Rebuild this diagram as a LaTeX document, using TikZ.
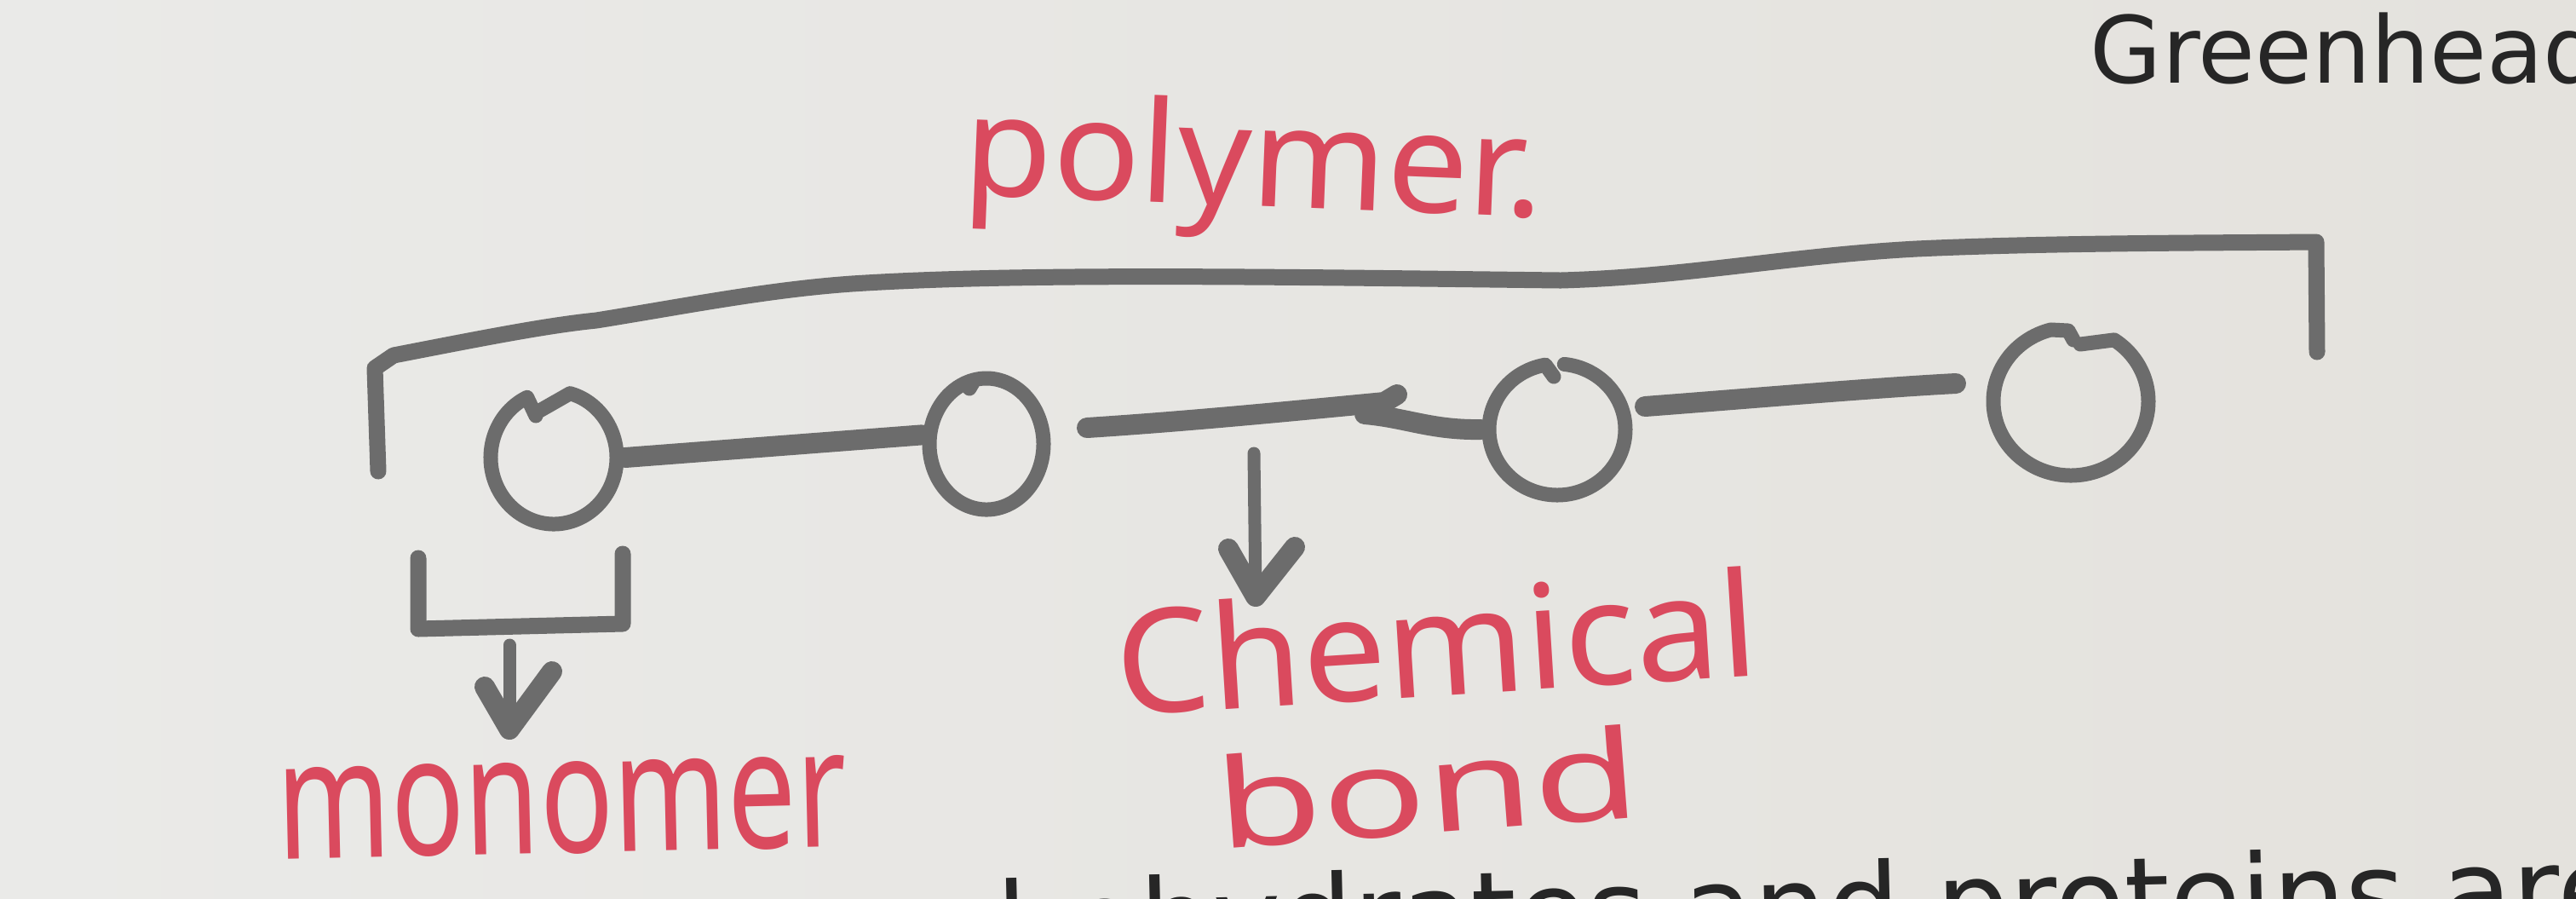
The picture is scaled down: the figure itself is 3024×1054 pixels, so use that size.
\documentclass[tikz,border=0pt]{standalone}
\usepackage{fontspec}
\newfontfamily\printfont{DejaVu Sans}
\newfontfamily\handfont{Noto Sans}
\usetikzlibrary{shapes.geometric}
\definecolor{paperL}{RGB}{234,234,232}
\definecolor{paperR}{RGB}{228,226,221}
\definecolor{pencol}{RGB}{108,108,108}
\definecolor{redcol}{RGB}{218,74,94}
\definecolor{inkcol}{RGB}{38,38,38}
\newdimen\pxu \pxu=0.25pt
\tikzset{
  pen/.style={draw=pencol, line width=17\pxu, line cap=round, line join=round},
  bondline/.style={pen, line width=24\pxu},
  headline/.style={pen, line width=24\pxu},
  mono/.style={ellipse, draw=none, inner sep=0pt},
  hand/.style={text=redcol, inner sep=0pt, anchor=base west},
  print/.style={text=inkcol, inner sep=0pt, anchor=base west},
}
\begin{document}
\begin{tikzpicture}[x=0.25pt, y=-0.25pt]
\useasboundingbox (0,0) rectangle (3024,1054);
\clip (0,0) rectangle (3024,1054);
\fill[left color=paperL, right color=paperR] (0,0) rectangle (3024,1054);

% printed text
\node[print, font=\printfont\fontsize{27.2pt}{30pt}\selectfont] (gh) at (2453,97) {Greenhead};
\node[print, rotate=1.3, font=\printfont\fontsize{33.75pt}{38pt}\selectfont] (body) at (958,1138) {carbohydrates and proteins are};

% polymer bracket
\draw[pen, line width=19\pxu] (444,553) -- (440,432) -- (462,417)
  .. controls (560,398) and (640,382) .. (700,376)
  .. controls (800,360) and (900,340) .. (1000,333)
  .. controls (1200,320) and (1500,325) .. (1832,329)
  .. controls (1980,325) and (2100,300) .. (2250,292)
  .. controls (2400,285) and (2600,285) .. (2719,284) -- (2720,413);

% monomer anchors
\node[mono, minimum width=166\pxu, minimum height=172\pxu] (m1) at (650,537) {};
\node[mono, minimum width=151\pxu, minimum height=172\pxu] (m2) at (1158,521) {};
\node[mono, minimum width=178\pxu, minimum height=172\pxu] (m3) at (1828,504) {};
\node[mono, minimum width=200\pxu, minimum height=192\pxu] (m4) at (2431,471) {};

% hand drawn monomers
\draw[pen] (630,484) -- ([shift={(285:74 and 78)}]m1.center)
  arc[start angle=285, end angle=605, x radius=74, y radius=78] -- (629,488);
\draw[pen] ([shift={(250:67 and 77)}]m2.center)
  arc[start angle=250, end angle=618, x radius=67, y radius=77] -- (1138,456);
\draw[pen] ([shift={(276:80 and 77)}]m3.center)
  arc[start angle=276, end angle=620, x radius=80, y radius=77] -- (1824,442);
\draw[pen] (2442,404) -- ([shift={(304:91 and 87)}]m4.center)
  arc[start angle=304, end angle=615, x radius=91, y radius=87] -- (2428,388) -- (2434,399);

% bonds
\coordinate (b2s) at (1276,502);
\coordinate (b2t) at (1640,463);
\coordinate (b2b) at (1602,486);
\coordinate (b3s) at (1931,477);
\coordinate (b3e) at (2296,450);
\draw[bondline] (m1.east) -- (m2.172);
\draw[bondline] (b2s) .. controls (1400,494) and (1520,482) .. (1625,472) -- (b2t);
\draw[bondline] (b2b) .. controls (1650,490) and (1680,505) .. (m3.west);
\draw[bondline] (b3s) .. controls (2050,468) and (2200,455) .. (b3e);

% chemical bond arrow
\coordinate (cbs) at (1472,532);
\coordinate (cbt) at (1474,700);
\draw[pen, line width=15\pxu] (cbs) -- (cbt);
\draw[headline] (cbt) ++(-32,-56) -- (cbt) -- ++(46,-58);

% monomer bracket and arrow
\coordinate (mbl) at (491,655);
\coordinate (mbr) at (731,650);
\draw[pen, line width=19\pxu] (mbl) -- (491,738) -- (731,732) -- (mbr);
\coordinate (mas) at (598,757);
\coordinate (mat) at (598,856);
\draw[pen, line width=15\pxu] (mas) -- (mat);
\draw[headline] (mat) ++(-29,-50) -- (mat) -- ++(50,-68);

% handwritten labels
\node[hand, rotate=-2.3, xscale=1.03, font=\handfont\fontsize{41.25pt}{45pt}\selectfont] (poly) at (1129,228) {polymer.};
\node[hand, rotate=3.6, xscale=1.03, font=\handfont\fontsize{42.5pt}{46pt}\selectfont] (chem) at (1313,840) {Chemical};
\node[hand, rotate=4.4, xscale=1.4, font=\handfont\fontsize{36.25pt}{40pt}\selectfont] (bond) at (1430,997) {bond};
\node[hand, rotate=1.3, xscale=0.73, font=\handfont\fontsize{49pt}{52pt}\selectfont] (mono) at (326,1008) {monomer};
\end{tikzpicture}
\end{document}
